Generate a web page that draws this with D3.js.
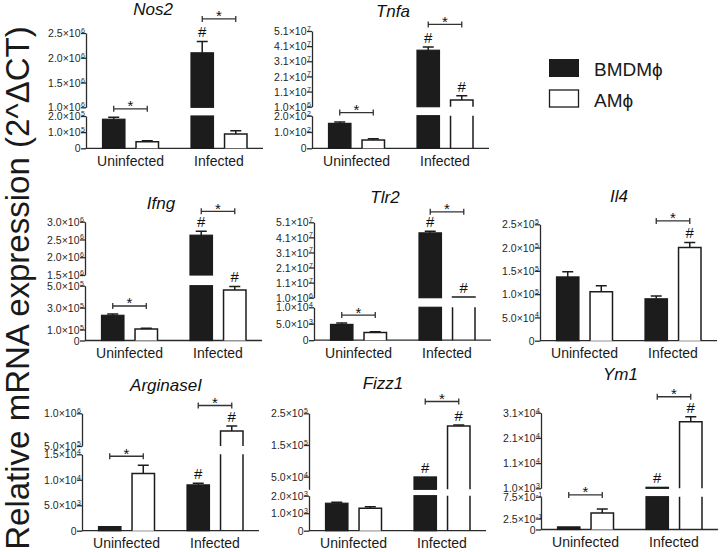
<!DOCTYPE html>
<html><head><meta charset="utf-8">
<script src="https://cdn.jsdelivr.net/npm/d3@7"></script>
<style>body{margin:0;background:#fff} svg{display:block} text{font-family:"Liberation Sans",Arial,Helvetica,sans-serif}</style>
</head><body><svg id="c" width="720" height="552"></svg>
<script>
// ---------- data ----------
const genes = ["Nos2","Tnfa","Ifng","Tlr2","Il4","ArginaseI","Fizz1","Ym1"];
const groups = ["Uninfected","Infected"];
const seriesNames = ["BMDMϕ","AMϕ"];
const bmdmMean = [[1.8e5,2.1e6],[153,3.83e7],[2.3e5,2.62e6],[4.8e3,4.4e7],[1.37e5,9.0e4],[800,9.0e3],[1.57e3,4.9e4],[0.06,1.4e3]];
const bmdmSem  = [[1.2e4,2.3e5],[8,2.2e6],[1.2e4,1.1e5],[4e2,1e6],[1.1e4,6e3],[50,3e2],[50,1e3],[0.01,0]];
const amMean   = [[4.1e4,8.8e4],[51,5.4e6],[1.06e5,4.6e5],[2.35e3,1.5e6],[1.05e5,2.0e5],[1.125e4,7.3e5],[1.28e3,2.1e5],[0.38,2.74e4]];
const amSem    = [[6e3,2.1e4],[8,2.8e6],[5e3,3.3e4],[2e2,1e5],[1.3e4,1.1e4],[1.6e3,7.6e4],[90,3e3],[0.09,2e3]];
const lowerTicks = [
  ["0","1.0×10^5","2.0×10^5"],
  ["0","1.0×10^2","2.0×10^2"],
  ["0","1.0×10^5","3.0×10^5","5.0×10^5"],
  ["0","5.0×10^3","1.0×10^4"],
  ["0","5.0×10^4","1.0×10^5","1.5×10^5","2.0×10^5","2.5×10^5"],
  ["0","5.0×10^3","1.0×10^4","1.5×10^4"],
  ["0","1.0×10^3","2.0×10^3"],
  ["0","2.5×10^-1","7.5×10^-1"]
];
const upperTicks = [
  ["1.0×10^6","1.5×10^6","2.0×10^6","2.5×10^6"],
  ["1.0×10^6","1.1×10^7","2.1×10^7","3.1×10^7","4.1×10^7","5.1×10^7"],
  ["1.5×10^6","2.0×10^6","2.5×10^6","3.0×10^6"],
  ["1.0×10^6","1.1×10^7","2.1×10^7","3.1×10^7","4.1×10^7","5.1×10^7"],
  [],
  ["5.0×10^5","1.0×10^6"],
  ["5.0×10^4","1.5×10^5","2.5×10^5"],
  ["1.0×10^3","1.1×10^4","2.1×10^4","3.1×10^4"]
];
const breakFloor = [1e6,1e6,1.5e6,1e6,null,5e5,1e4,1e3];
// # markers: [group][series]
const hashMarks = [
  [[0,0],[1,0]],[[0,0],[1,1]],[[0,0],[1,1]],[[0,0],[1,1]],
  [[0,0],[0,1]],[[0,0],[1,1]],[[0,0],[1,1]],[[0,0],[1,1]]
];
// * brackets per group
const starBrackets = [[1,1],[1,1],[1,1],[1,1],[0,1],[1,1],[0,1],[1,1]];
const yTitle = "Relative mRNA expression (2^ΔCT)";

// ---------- layout (positions only) ----------
const layout = [
  {ax:86,  y0:148.3, lowTop:116,   upBot:107.3, upTop:33,    tx:153,   ty:15,    br:[8.5,22.5]},
  {ax:312, y0:148.3, lowTop:115.7, upBot:106.7, upTop:31,    tx:393,   ty:16.5,  br:[9.5,22.5]},
  {ax:85,  y0:340.5, lowTop:285.7, upBot:275,   upTop:221.7, tx:161,   ty:208.5, br:[8,20]},
  {ax:314, y0:340.2, lowTop:307.3, upBot:297.7, upTop:222.3, tx:385,   ty:203,   br:[8,19.5]},
  {ax:540, y0:340.7, lowTop:224.3, upBot:null,  upTop:null,  tx:619,   ty:201.5, br:[8,21.5]},
  {ax:82,  y0:530.7, lowTop:454.3, upBot:446,   upTop:413.3, tx:166,   ty:390.5, br:[9,20.5]},
  {ax:309, y0:530.7, lowTop:495.7, upBot:489.3, upTop:413.3, tx:383,   ty:388.5, br:[8,23.5]},
  {ax:541, y0:529.5, lowTop:496.7, upBot:488.3, upTop:412.7, tx:620.5, ty:379.5, br:[14,20]}
];
const INK = "#1c1c1c", AXC = "#2a2a2a";

const svg = d3.select("#c");
svg.append("rect").attr("width",720).attr("height",552).attr("fill","#fff");

function parseLabel(s){
  if (s === "0") return {v:0, base:"0", sup:""};
  const [b, e] = s.split("^");
  const m = +b.split("×")[0];
  return {v: +(m * Math.pow(10, +e)).toPrecision(6), base:b, sup:e};
}

genes.forEach((gene, i) => {
  const L = layout[i];
  const g = svg.append("g");
  const lowT = lowerTicks[i].map(parseLabel);
  const upT = upperTicks[i].map(parseLabel);
  const lowMax = lowT[lowT.length-1].v;
  const low = d3.scaleLinear().domain([0, lowMax]).range([L.y0, L.lowTop]);
  let up = null, upMin = null;
  if (upT.length) {
    upMin = breakFloor[i];
    up = d3.scaleLinear().domain([upMin, upT[upT.length-1].v]).range([L.upBot, L.upTop]);
  }
  const yOf = v => (!up || v <= lowMax) ? low(v) : up(Math.max(v, upMin));
  const xg = d3.scalePoint().domain(groups).range([L.ax + 44.5, L.ax + 133]);
  const xs = d3.scaleBand().domain(seriesNames).range([-28, 28]).paddingInner(0.33);
  const bw = xs.bandwidth();

  // y axes
  function drawAxis(scale, ticks){
    const ag = g.append("g").attr("transform", `translate(${L.ax},0)`)
      .call(d3.axisLeft(scale).tickValues(ticks.map(t => t.v)).tickSize(5).tickSizeOuter(0).tickPadding(0).tickFormat(""));
    ag.attr("font-family", null).attr("font-size", null);
    ag.select(".domain").attr("stroke", AXC).attr("stroke-width", 1.3);
    ag.selectAll(".tick line").attr("stroke", AXC).attr("stroke-width", 1.3);
    ag.selectAll(".tick text").remove();
    ag.selectAll(".tick").each(function(d, j){
      const t = ticks[j], tk = d3.select(this);
      tk.append("text").attr("x", -5.5).attr("dy", "0.35em").attr("text-anchor", "end")
        .attr("font-size", 10.5).attr("fill", "#262626").text(t.base);
      if (t.sup) tk.append("text").attr("x", -5).attr("y", -0.5).attr("text-anchor", "start")
        .attr("font-size", 7).attr("fill", "#262626").text(t.sup);
    });
  }
  drawAxis(low, lowT);
  if (up) drawAxis(up, upT);

  // x axis line
  g.append("line").attr("x1", L.ax).attr("x2", L.ax + 177).attr("y1", L.y0).attr("y2", L.y0)
    .attr("stroke", AXC).attr("stroke-width", 1.3);
  g.selectAll(".xl").data(groups).join("text")
    .attr("x", d => xg(d)).attr("y", L.y0 + 17.5).attr("text-anchor", "middle")
    .attr("font-size", 14).attr("fill", "#1a1a1a").text(d => d);

  // title
  g.append("text").attr("x", L.tx).attr("y", L.ty).attr("text-anchor", "middle")
    .attr("font-size", 17).attr("font-style", "italic").attr("fill", "#111").text(gene);

  // bars
  const bars = [];
  groups.forEach((grp, gi) => {
    seriesNames.forEach((s, si) => {
      const mean = (si === 0 ? bmdmMean : amMean)[i][gi];
      const sem = (si === 0 ? bmdmSem : amSem)[i][gi];
      bars.push({grp, gi, s, si, mean, sem, x: xg(grp) + xs(s), hash: hashMarks[i][gi][si]});
    });
  });
  bars.forEach(b => {
    const x = b.x, w = bw, black = b.si === 0;
    const broken = up && b.mean > lowMax;
    if (black) {
      const yl = low(Math.min(b.mean, lowMax));
      g.append("rect").attr("x", x).attr("y", yl).attr("width", w).attr("height", L.y0 - yl)
        .attr("fill", INK).attr("stroke", INK).attr("stroke-width", 1.2);
      if (broken) {
        const yu = up(b.mean);
        g.append("rect").attr("x", x).attr("y", yu).attr("width", w).attr("height", L.upBot - yu)
          .attr("fill", INK).attr("stroke", INK).attr("stroke-width", 1.2);
      }
    } else {
      if (!broken) {
        const yl = low(b.mean);
        g.append("path").attr("d", `M${x},${L.y0}V${yl}H${x+w}V${L.y0}`)
          .attr("fill", "#fff").attr("stroke", INK).attr("stroke-width", 1.5);
      } else {
        g.append("path").attr("d", `M${x},${L.y0}V${L.lowTop}M${x+w},${L.lowTop}V${L.y0}`)
          .attr("fill", "none").attr("stroke", INK).attr("stroke-width", 1.5);
        const yu = up(b.mean);
        g.append("path").attr("d", `M${x},${L.upBot}V${yu}H${x+w}V${L.upBot}`)
          .attr("fill", "#fff").attr("stroke", INK).attr("stroke-width", 1.5);
      }
    }
    // error bar
    b.top = yOf(b.mean);
    b.errTop = yOf(b.mean + b.sem);
    if (b.sem > 0 && b.top - b.errTop > 0.5) {
      const cx = x + w / 2;
      g.append("path").attr("d", `M${cx},${b.top}V${b.errTop}M${cx-5.5},${b.errTop}H${cx+5.5}`)
        .attr("fill", "none").attr("stroke", INK).attr("stroke-width", 1.5);
    }
    if (b.hash) {
      g.append("text").attr("x", x + w / 2).attr("y", Math.min(b.top, b.errTop) - 4)
        .attr("text-anchor", "middle").attr("font-size", 15).attr("fill", "#111").text("#");
    }
  });

  // significance brackets
  groups.forEach((grp, gi) => {
    if (!starBrackets[i][gi]) return;
    const pair = bars.filter(b => b.gi === gi);
    const topY = d3.min(pair, b => Math.min(b.top, b.errTop));
    const y = topY - L.br[gi];
    const x1 = pair[0].x + bw / 2, x2 = pair[1].x + bw / 2;
    g.append("path").attr("d", `M${x1},${y-3}V${y+3}M${x1},${y}H${x2}M${x2},${y-3}V${y+3}`)
      .attr("fill", "none").attr("stroke", "#333").attr("stroke-width", 1.3);
    g.append("text").attr("x", (x1 + x2) / 2).attr("y", y + 2.5).attr("text-anchor", "middle")
      .attr("font-size", 15).attr("fill", "#111").text("*");
  });
});

// y title
svg.append("text").attr("transform", "translate(29,288) rotate(-90)").attr("text-anchor", "middle")
  .attr("font-size", 33).attr("fill", "#1a1a1a").text(yTitle);

// legend
const lg = svg.append("g");
seriesNames.forEach((s, si) => {
  const y = 59.5 + si * 30.5;
  lg.append("rect").attr("x", 549.5).attr("y", y).attr("width", 29).attr("height", 17)
    .attr("fill", si === 0 ? INK : "#fff").attr("stroke", INK).attr("stroke-width", si === 0 ? 1 : 1.3);
  lg.append("text").attr("x", 594).attr("y", y + 16.5).attr("font-size", 19).attr("fill", "#1a1a1a").text(s);
});
</script></body></html>
